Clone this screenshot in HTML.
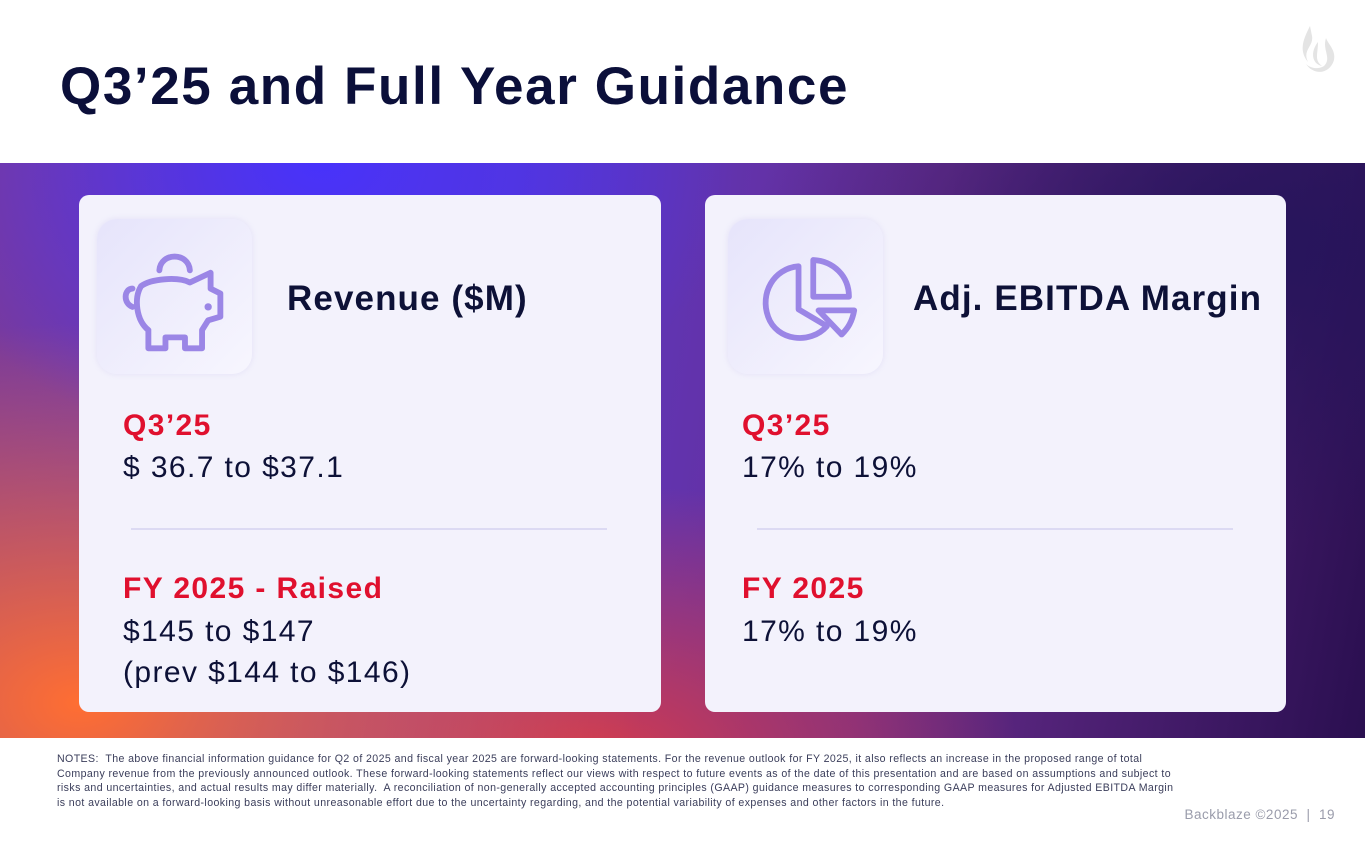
<!DOCTYPE html>
<html><head><meta charset="utf-8"><style>
*{margin:0;padding:0;box-sizing:border-box}
body{width:1365px;height:853px;overflow:hidden;background:#fff;font-family:"Liberation Sans",sans-serif;position:relative;color:#0d1137}
.abs{position:absolute;white-space:nowrap}
#band{left:0;top:163px;width:1365px;height:575px;background:
radial-gradient(ellipse 420px 300px at 320px 0px,rgba(70,50,255,.95),rgba(70,50,255,0) 100%),
radial-gradient(ellipse 560px 380px at 80px 540px,rgba(255,110,50,1),rgba(255,110,50,0) 100%),
radial-gradient(ellipse 420px 280px at 600px 600px,rgba(230,60,60,.85),rgba(230,60,60,0) 100%),
radial-gradient(ellipse 500px 300px at 1250px 80px,rgba(35,20,90,.9),rgba(35,20,90,0) 100%),
linear-gradient(100deg,#7a3a9a 0%,#5a38c8 35%,#6a2e90 65%,#2a0f50 100%)}
.card{background:#f3f2fc;border-radius:10px;top:195px;height:517px}
.ibox{width:155px;height:155px;border-radius:20px;top:219px;background:linear-gradient(135deg,#e6e4fb,#f7f6fe);box-shadow:0 0 6px rgba(180,170,230,.25)}
.h{font-size:35px;font-weight:bold;top:279px;letter-spacing:1.1px}
.red{color:#e0102e;font-size:30px;font-weight:bold;letter-spacing:1.4px}
.val{font-size:30px;line-height:41px;letter-spacing:1.4px}
.div{height:2px;background:#dcdaf3}
</style></head><body>
<h1 class="abs" style="left:60px;top:56px;font-size:53px;font-weight:bold;color:#0b0f3a;letter-spacing:1.6px">Q3’25 and Full Year Guidance</h1>
<svg class="abs" style="left:1300px;top:20px" width="40" height="58" viewBox="0 0 40 58"><path d="M10 6 C4 18 -2 30 8 42 C2 30 14 26 12 16 Z" fill="#e4e4e4"/><path d="M18 22 C10 32 12 44 22 46 C14 40 18 34 18 22Z" fill="#e4e4e4"/><path d="M6 44 C14 56 30 54 34 40 C36 30 28 24 26 18 C22 30 32 38 24 46 C18 50 10 48 6 44Z" fill="#e4e4e4"/></svg>
<div id="band" class="abs"></div>

<div class="abs card" style="left:79px;width:582px"></div>
<div class="abs ibox" style="left:97px">
<svg width="155" height="155" viewBox="0 0 155 155"><g transform="translate(77 83) scale(1.22) translate(-77 -83)"><g fill="none" stroke="#9b86e6" stroke-width="4.8" stroke-linecap="round" stroke-linejoin="round"><path d="M65 57 C66 42 89 42 90 57"/><path d="M43 72 C36 72 35 84 43 87"/><path d="M50 70 C58 64 80 62 90 67 L107 59 L107 72 L115 76 L115 95 L105 98 L100 106 L100 121 L86 121 L86 112 L70 112 L70 121 L56 121 L56 106 C46 98 44 80 50 70Z"/></g><circle cx="105" cy="87" r="3" fill="#9b86e6"/></g></svg></div>
<div class="abs h" style="left:287px">Revenue ($M)</div>
<div class="abs red" style="left:123px;top:409px">Q3’25</div>
<div class="abs val" style="left:123px;top:447px">$ 36.7 to $37.1</div>
<div class="abs div" style="left:131px;top:528px;width:476px"></div>
<div class="abs red" style="left:123px;top:572px">FY 2025 - Raised</div>
<div class="abs val" style="left:123px;top:611px">$145 to $147<br>(prev $144 to $146)</div>

<div class="abs card" style="left:705px;width:581px"></div>
<div class="abs ibox" style="left:728px">
<svg width="155" height="155" viewBox="0 0 155 155"><g transform="translate(-8 -2) translate(88 85) scale(1.05) translate(-88 -85)"><g fill="none" stroke="#9b86e6" stroke-width="5.5" stroke-linejoin="round"><path d="M79 51 C55 53 42 77 50 99 C58 122 90 126 106 108 L79 92Z"/><path d="M93 45 L93 80 L127 80 C127 60 112 46 93 45Z"/><path d="M98 93 L132 93 C130 104 126 110 120 116Z"/></g></g></svg></div>
<div class="abs h" style="left:913px">Adj. EBITDA Margin</div>
<div class="abs red" style="left:742px;top:409px">Q3’25</div>
<div class="abs val" style="left:742px;top:447px">17% to 19%</div>
<div class="abs div" style="left:757px;top:528px;width:476px"></div>
<div class="abs red" style="left:742px;top:572px">FY 2025</div>
<div class="abs val" style="left:742px;top:611px">17% to 19%</div>

<div class="abs" style="white-space:normal;left:57px;top:752px;width:1120px;font-size:10.6px;line-height:14.6px;letter-spacing:.4px;color:#3a3d5a">NOTES:&nbsp; The above financial information guidance for Q2 of 2025 and fiscal year 2025 are forward-looking statements. For the revenue outlook for FY 2025, it also reflects an increase in the proposed range of total Company revenue from the previously announced outlook. These forward-looking statements reflect our views with respect to future events as of the date of this presentation and are based on assumptions and subject to risks and uncertainties, and actual results may differ materially.&nbsp; A reconciliation of non-generally accepted accounting principles (GAAP) guidance measures to corresponding GAAP measures for Adjusted EBITDA Margin is not available on a forward-looking basis without unreasonable effort due to the uncertainty regarding, and the potential variability of expenses and other factors in the future.</div>
<div class="abs" style="right:30px;top:807px;font-size:13.5px;letter-spacing:.5px;color:#9a9cab">Backblaze ©2025&nbsp; |&nbsp; 19</div>
</body></html>
